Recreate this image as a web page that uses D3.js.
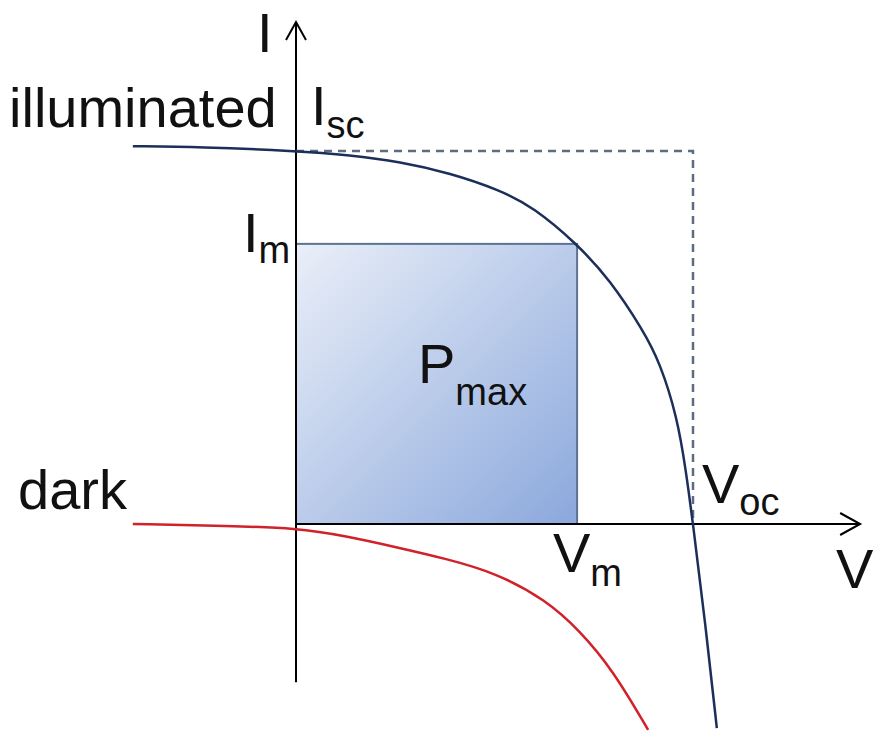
<!DOCTYPE html>
<html lang="en">
<head>
  <meta charset="UTF-8">
  <title>solar cell I-V</title>
  <script src="https://d3js.org/d3.v7.min.js"></script>
  <style>
    body { margin: 0; background: #fff; }
    text { font-family: "Liberation Sans", Arial, sans-serif; fill: #111; }
  </style>
</head>
<body>
<svg></svg>
<script>
  // values normalised: V / Voc, I / Isc
  const illumV = [-0.411, -0.242, 0, 0.136, 0.262, 0.388, 0.514, 0.597, 0.708, 0.791, 0.874, 0.917, 0.960, 0.982, 1.0, 1.030, 1.060]
  const illumI = [1.013, 1.011, 1.0, 0.989, 0.971, 0.941, 0.895, 0.850, 0.751, 0.654, 0.520, 0.432, 0.287, 0.145, 0, -0.257, -0.547]

  const darkV = [-0.411, -0.166, 0, 0.126, 0.252, 0.378, 0.504, 0.630, 0.713, 0.798, 0.887]
  const darkI = [0, -0.005, -0.011, -0.032, -0.062, -0.093, -0.131, -0.204, -0.284, -0.391, -0.552]

  const Vm = 0.708, Im = 0.751
  const Voc = 1, Isc = 1
  const axisV = [0, 1.421]
  const axisI = [-0.424, 1.346]

  const width = 876, height = 731

  const x = d3.scaleLinear().domain([0, 1]).range([296, 693])
  const y = d3.scaleLinear().domain([0, 1]).range([524, 151])

  const svg = d3.select('svg')
      .attr('width', width)
      .attr('height', height)
      .attr('viewBox', [0, 0, width, height])

  const grad = svg.append('defs').append('linearGradient')
      .attr('id', 'pfill')
      .attr('x1', '0%').attr('y1', '0%')
      .attr('x2', '100%').attr('y2', '100%')
  grad.append('stop').attr('offset', '0%').attr('stop-color', '#eaeff8')
  grad.append('stop').attr('offset', '100%').attr('stop-color', '#8ba8dc')

  // Pmax rectangle
  svg.append('rect')
      .attr('x', x(0))
      .attr('y', y(Im))
      .attr('width', x(Vm) - x(0))
      .attr('height', y(0) - y(Im))
      .attr('fill', 'url(#pfill)')
      .attr('stroke', '#5d7394')
      .attr('stroke-width', 2)

  // axes
  svg.append('line')
      .attr('x1', x(axisV[0])).attr('x2', x(axisV[1]))
      .attr('y1', y(0)).attr('y2', y(0))
      .attr('stroke', '#000').attr('stroke-width', 2)
  svg.append('line')
      .attr('x1', x(0)).attr('x2', x(0))
      .attr('y1', y(axisI[0])).attr('y2', y(axisI[1]))
      .attr('stroke', '#000').attr('stroke-width', 2)

  const xt = x(axisV[1]), yt = y(axisI[1])
  svg.append('path')
      .attr('d', `M${xt - 20},${y(0) - 11}L${xt},${y(0)}L${xt - 20},${y(0) + 11}`)
      .attr('fill', 'none').attr('stroke', '#000').attr('stroke-width', 2)
  svg.append('path')
      .attr('d', `M${x(0) - 10},${yt + 18}L${x(0)},${yt}L${x(0) + 10},${yt + 18}`)
      .attr('fill', 'none').attr('stroke', '#000').attr('stroke-width', 2)

  // Isc / Voc dashed box
  svg.append('path')
      .attr('d', `M${x(0)},${y(Isc)}H${x(Voc)}V${y(0)}`)
      .attr('fill', 'none')
      .attr('stroke', '#5b6d7e')
      .attr('stroke-width', 2.5)
      .attr('stroke-dasharray', [8, 6])

  const line = d3.line()
      .x(d => x(d[0]))
      .y(d => y(d[1]))
      .curve(d3.curveBasis)

  svg.append('path')
      .datum(darkV.map((v, i) => [v, darkI[i]]))
      .attr('d', line)
      .attr('fill', 'none')
      .attr('stroke', '#d0222a')
      .attr('stroke-width', 2.5)

  svg.append('path')
      .datum(illumV.map((v, i) => [v, illumI[i]]))
      .attr('d', line)
      .attr('fill', 'none')
      .attr('stroke', '#1b2f5a')
      .attr('stroke-width', 2.5)

  // labels
  const labels = [
    {t: 'I', x: 257, y: 52},
    {t: 'illuminated', x: 9, y: 127},
    {t: 'I', s: 'sc', x: 311, y: 125, dy: 13},
    {t: 'I', s: 'm', x: 243, y: 252, dy: 11},
    {t: 'P', s: 'max', x: 418, y: 383, dy: 22},
    {t: 'dark', x: 18, y: 509},
    {t: 'V', s: 'oc', x: 702, y: 503, dy: 12},
    {t: 'V', s: 'm', x: 553, y: 572, dy: 14},
    {t: 'V', x: 836, y: 588}
  ]

  const tx = svg.append('g').selectAll('text')
      .data(labels)
      .join('text')
      .attr('x', d => d.x)
      .attr('y', d => d.y)
      .style('font-size', '56px')
      .text(d => d.t)

  tx.filter(d => d.s)
      .append('tspan')
      .attr('dy', d => d.dy)
      .style('font-size', '38px')
      .text(d => d.s)
</script>
</body>
</html>
